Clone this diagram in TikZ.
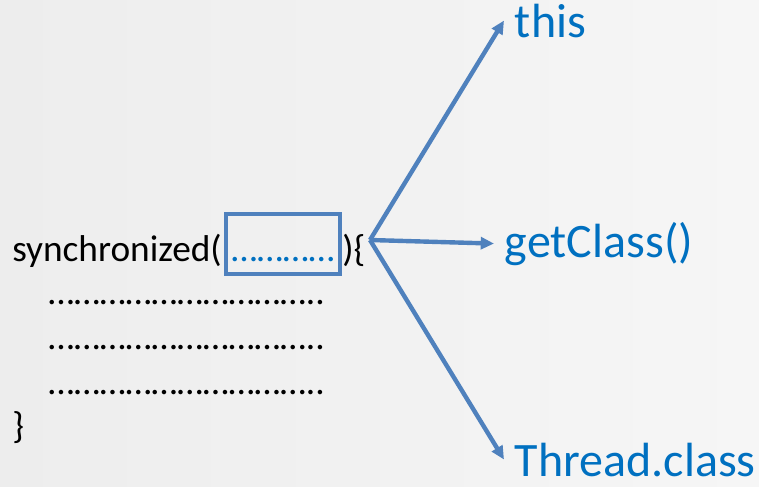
\documentclass[tikz,border=0pt]{standalone}
\usepackage{fontspec}
\setmainfont{Carlito}
\usetikzlibrary{positioning,arrows.meta}

\definecolor{arrowblue}{HTML}{4F81BD}
\definecolor{textblue}{HTML}{0070C0}
\definecolor{bgleft}{HTML}{EDEDED}
\definecolor{bgright}{HTML}{F6F6F6}

\tikzset{
  code/.style={inner sep=0pt, anchor=base west, font=\fontsize{28}{33}\selectfont},
  target/.style={inner xsep=8pt, inner ysep=0pt, anchor=base west, text=textblue, font=\fontsize{36}{43}\selectfont},
  selbox/.style={draw=arrowblue, line width=3pt, inner sep=0pt, minimum width=85.5pt,
    text height=35pt, text depth=10pt, text=textblue, anchor=base west, font=\fontsize{28}{33}\selectfont},
  link/.style={draw=arrowblue, line width=3.3pt, -{Triangle[length=10pt,width=9pt]}}
}

\begin{document}
\begin{tikzpicture}[x=0.75pt, y=-0.75pt]
    % Background
    \shade[left color=bgleft, right color=bgright] (0,0) rectangle (759,486);
    \useasboundingbox (0,0) rectangle (759,486);

    % Code block
    \node[code] (sync) at (12,261) {synchronized(};
    \node[selbox] (sel) at (224,261) {…………};
    \node[code] (close) at (sel.base east) {)\{};
    \node[code] (body1) at (48,304) {…………………………..};
    \node[code] (body2) at (48,349) {…………………………..};
    \node[code] (body3) at (48,394) {…………………………..};
    \node[code] (end) at (12,438) {\}};

    % Lock objects
    \node[target] (this) at (504,37) {this};
    \node[target] (getclass) at (494,257) {getClass()};
    \node[target] (thread) at (504,476) {Thread.class};

    % Arrows
    \coordinate (fork) at (370,240);
    \draw[link] (fork) -- (this.west);
    \draw[link] (fork) -- (getclass.west);
    \draw[link] (fork) -- (thread.west);
\end{tikzpicture}
\end{document}
